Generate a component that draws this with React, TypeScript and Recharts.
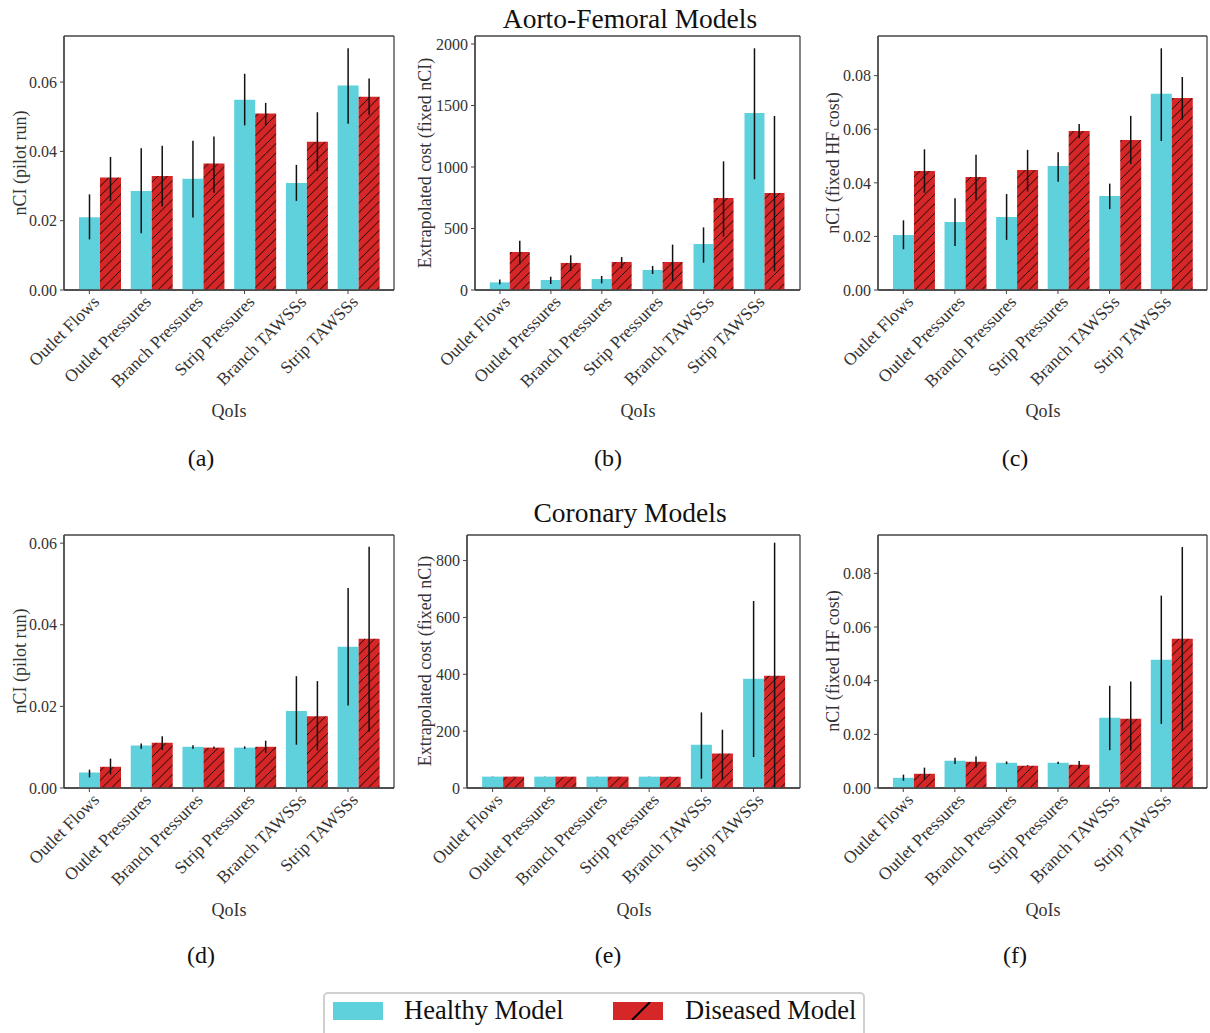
import React from 'react';
import { BarChart, Bar, XAxis, YAxis, ErrorBar, CartesianGrid } from 'recharts';

const categories = ['Outlet Flows', 'Outlet Pressures', 'Branch Pressures', 'Strip Pressures', 'Branch TAWSSs', 'Strip TAWSSs'];

// (a) Aorto-femoral, nCI (pilot run)
const aH = [0.0210, 0.0286, 0.0321, 0.0549, 0.0309, 0.0590];
const aHLo = [0.0146, 0.0164, 0.0209, 0.0475, 0.0257, 0.0480];
const aHHi = [0.0276, 0.0409, 0.0431, 0.0624, 0.0361, 0.0698];
const aD = [0.0325, 0.0329, 0.0365, 0.0509, 0.0428, 0.0558];
const aDLo = [0.0257, 0.0241, 0.0281, 0.0475, 0.0343, 0.0506];
const aDHi = [0.0384, 0.0416, 0.0443, 0.0540, 0.0513, 0.0610];
const aTicks = [0, 0.02, 0.04, 0.06];

// (b) Aorto-femoral, extrapolated cost
const bH = [62, 81, 89, 163, 374, 1439];
const bHLo = [46, 49, 54, 130, 222, 900];
const bHHi = [85, 108, 114, 195, 509, 1965];
const bD = [309, 220, 228, 228, 748, 789];
const bDLo = [209, 154, 176, 73, 434, 152];
const bDHi = [401, 282, 268, 369, 1046, 1415];
const bTicks = [0, 500, 1000, 1500, 2000];

// (c) Aorto-femoral, nCI (fixed HF cost)
const cH = [0.0205, 0.0254, 0.0272, 0.0463, 0.0351, 0.0732];
const cHLo = [0.0152, 0.0164, 0.0187, 0.0404, 0.0302, 0.0556];
const cHHi = [0.0260, 0.0342, 0.0358, 0.0514, 0.0397, 0.0902];
const cD = [0.0444, 0.0422, 0.0448, 0.0593, 0.0560, 0.0717];
const cDLo = [0.0363, 0.0337, 0.0368, 0.0566, 0.0470, 0.0636];
const cDHi = [0.0525, 0.0505, 0.0523, 0.0620, 0.0650, 0.0795];
const cTicks = [0, 0.02, 0.04, 0.06, 0.08];

// (d) Coronary, nCI (pilot run)
const dH = [0.0038, 0.0104, 0.0101, 0.0099, 0.0189, 0.0346];
const dHLo = [0.0026, 0.0096, 0.0096, 0.0096, 0.0106, 0.0202];
const dHHi = [0.0045, 0.0109, 0.0105, 0.0102, 0.0274, 0.0490];
const dD = [0.0052, 0.0111, 0.0099, 0.0101, 0.0176, 0.0366];
const dDLo = [0.0033, 0.0093, 0.0096, 0.0086, 0.0092, 0.0138];
const dDHi = [0.0072, 0.0127, 0.0102, 0.0116, 0.0262, 0.0591];
const dTicks = [0, 0.02, 0.04, 0.06];

// (e) Coronary, extrapolated cost
const eH = [40, 40, 40, 40, 152, 384];
const eHLo = [39.5, 39.5, 39.5, 39.5, 33, 109];
const eHHi = [40.5, 40.5, 40.5, 40.5, 266, 658];
const eD = [40, 40, 40, 40, 121, 395];
const eDLo = [39.5, 39.5, 39.5, 39.5, 29, 0];
const eDHi = [40.5, 40.5, 40.5, 40.5, 205, 863];
const eTicks = [0, 200, 400, 600, 800];

// (f) Coronary, nCI (fixed HF cost)
const fH = [0.0038, 0.0102, 0.0094, 0.0094, 0.0262, 0.0478];
const fHLo = [0.0027, 0.0089, 0.0089, 0.0089, 0.0141, 0.0239];
const fHHi = [0.0050, 0.0113, 0.0099, 0.0098, 0.0381, 0.0717];
const fD = [0.0053, 0.0098, 0.0083, 0.0087, 0.0258, 0.0556];
const fDLo = [0.0031, 0.0076, 0.0081, 0.0073, 0.0139, 0.0213];
const fDHi = [0.0076, 0.0117, 0.0085, 0.0101, 0.0397, 0.0898];
const fTicks = [0, 0.02, 0.04, 0.06, 0.08];

const FONT = "'Liberation Serif', 'DejaVu Serif', serif";
const CYAN = '#5fd1dd';
const RED = '#d62728';
const SPINE = '#444';
const TXT = '#333';

const fmt2 = (v: number) => v.toFixed(2);
const fmt0 = (v: number) => String(Math.round(v));

type PanelCfg = {
  key: string;
  h: number[]; hLo: number[]; hHi: number[];
  d: number[]; dLo: number[]; dHi: number[];
  ticks: number[]; max: number; fmt: (v: number) => string;
  left: number; right: number; top: number; bottom: number;
};

const panels: PanelCfg[] = [
  { key: 'a', h: aH, hLo: aHLo, hHi: aHHi, d: aD, dLo: aDLo, dHi: aDHi, ticks: aTicks, max: 0.0733, fmt: fmt2, left: 64, right: 394, top: 36, bottom: 290 },
  { key: 'b', h: bH, hLo: bHLo, hHi: bHHi, d: bD, dLo: bDLo, dHi: bDHi, ticks: bTicks, max: 2065, fmt: fmt0, left: 475, right: 800, top: 36, bottom: 290 },
  { key: 'c', h: cH, hLo: cHLo, hHi: cHHi, d: cD, dLo: cDLo, dHi: cDHi, ticks: cTicks, max: 0.0948, fmt: fmt2, left: 878, right: 1207, top: 36, bottom: 290 },
  { key: 'd', h: dH, hLo: dHLo, hHi: dHHi, d: dD, dLo: dDLo, dHi: dDHi, ticks: dTicks, max: 0.0620, fmt: fmt2, left: 64, right: 394, top: 535, bottom: 788 },
  { key: 'e', h: eH, hLo: eHLo, hHi: eHHi, d: eD, dLo: eDLo, dHi: eDHi, ticks: eTicks, max: 890, fmt: fmt0, left: 467, right: 800, top: 535, bottom: 788 },
  { key: 'f', h: fH, hLo: fHLo, hHi: fHHi, d: fD, dLo: fDLo, dHi: fDHi, ticks: fTicks, max: 0.0943, fmt: fmt2, left: 878, right: 1207, top: 535, bottom: 788 },
];

const XTick = (props: any) => {
  const { x, y, payload, off } = props;
  const cx = x - off;
  const tx = cx + 11;
  const ty = y + 13;
  return (
    <g>
      <line x1={cx} y1={y} x2={cx} y2={y + 4} stroke={SPINE} strokeWidth={1} />
      <text x={tx} y={ty} transform={`rotate(-45 ${tx} ${ty})`} textAnchor="end" fontSize={17.5} fontFamily={FONT} fill={TXT}>
        {payload.value}
      </text>
    </g>
  );
};

const frameV = ({ offset }: any) => [offset.left, offset.left + offset.width];
const frameH = ({ offset }: any) => [offset.top, offset.top + offset.height];

function Panel({ p }: { p: PanelCfg }) {
  const plotW = p.right - p.left;
  const plotH = p.bottom - p.top;
  const YW = 60, MT = 10, MR = 6, XH = 130;
  const W = plotW + YW + MR;
  const H = plotH + MT + XH;
  const unit = plotW / 6.38;
  const pad = 0.19 * unit;
  const off = 0.2 * unit;
  const data = categories.map((c, i) => ({
    name: c,
    h: p.h[i],
    d: p.d[i],
    hErr: [p.h[i] - p.hLo[i], p.hHi[i] - p.h[i]],
    dErr: [p.d[i] - p.dLo[i], p.dHi[i] - p.d[i]],
  }));
  const pid = `hatch-${p.key}`;
  return (
    <div style={{ position: 'absolute', left: p.left - YW, top: p.top - MT }}>
      <BarChart width={W} height={H} data={data} margin={{ top: MT, right: MR, left: 0, bottom: 0 }} barCategoryGap="10%" barGap={0}>
        <defs>
          <pattern id={pid} patternUnits="userSpaceOnUse" width={9.5} height={9.5}>
            <rect x={0} y={0} width={9.5} height={9.5} fill={RED} />
            <path d="M0,9.5 L9.5,0 M-2,2 L2,-2 M7.5,11.5 L11.5,7.5" stroke="#000" strokeWidth={0.9} />
          </pattern>
        </defs>
        <CartesianGrid
          stroke={SPINE}
          strokeWidth={1.3}
          fill="none"
          verticalCoordinatesGenerator={frameV}
          horizontalCoordinatesGenerator={frameH}
        />
        <XAxis
          dataKey="name"
          height={XH}
          interval={0}
          tickLine={false}
          tickSize={0}
          tickMargin={0}
          padding={{ left: pad, right: pad }}
          axisLine={{ stroke: SPINE, strokeWidth: 1.3 }}
          tick={(tp: any) => <XTick {...tp} off={off} />}
        />
        <YAxis
          type="number"
          width={YW}
          domain={[0, p.max]}
          allowDataOverflow
          ticks={p.ticks}
          interval={0}
          tickFormatter={p.fmt}
          tickSize={4}
          tickMargin={3}
          tick={{ fill: TXT, fontSize: 16, fontFamily: FONT }}
          tickLine={{ stroke: SPINE }}
          axisLine={{ stroke: SPINE, strokeWidth: 1.3 }}
        />
        <Bar dataKey="h" fill={CYAN} isAnimationActive={false}>
          <ErrorBar dataKey="hErr" width={0} stroke="#111" strokeWidth={1.5} />
        </Bar>
        <Bar dataKey="d" fill={`url(#${pid})`} isAnimationActive={false}>
          <ErrorBar dataKey="dErr" width={0} stroke="#111" strokeWidth={1.5} />
        </Bar>
      </BarChart>
    </div>
  );
}

const yLabels = [
  { t: 'nCI (pilot run)', x: 20, y: 163 },
  { t: 'Extrapolated cost (fixed nCI)', x: 425, y: 163 },
  { t: 'nCI (fixed HF cost)', x: 833, y: 163 },
  { t: 'nCI (pilot run)', x: 20, y: 661 },
  { t: 'Extrapolated cost (fixed nCI)', x: 425, y: 661 },
  { t: 'nCI (fixed HF cost)', x: 833, y: 661 },
];
const xLabels = [
  { x: 229, y: 411 }, { x: 638, y: 411 }, { x: 1043, y: 411 },
  { x: 229, y: 910 }, { x: 634, y: 910 }, { x: 1043, y: 910 },
];
const captions = [
  { t: '(a)', x: 201, y: 458 }, { t: '(b)', x: 608, y: 458 }, { t: '(c)', x: 1015, y: 458 },
  { t: '(d)', x: 201, y: 955 }, { t: '(e)', x: 608, y: 955 }, { t: '(f)', x: 1015, y: 955 },
];

export default function App() {
  return (
    <div style={{ position: 'absolute', left: 0, top: 0, width: 1210, height: 1033, background: '#fff', overflow: 'hidden', fontFamily: FONT }}>
      {panels.map((p) => (
        <Panel key={p.key} p={p} />
      ))}
      <svg width={1210} height={1033} style={{ position: 'absolute', left: 0, top: 0, pointerEvents: 'none' }}>
        <text x={630} y={18} textAnchor="middle" dominantBaseline="central" fontSize={27.5} fontFamily={FONT} fill="#111">Aorto-Femoral Models</text>
        <text x={630} y={512} textAnchor="middle" dominantBaseline="central" fontSize={27.5} fontFamily={FONT} fill="#111">Coronary Models</text>
        {yLabels.map((l, i) => (
          <text key={'y' + i} x={l.x} y={l.y} transform={`rotate(-90 ${l.x} ${l.y})`} textAnchor="middle" dominantBaseline="central" fontSize={18} fontFamily={FONT} fill={TXT}>{l.t}</text>
        ))}
        {xLabels.map((l, i) => (
          <text key={'x' + i} x={l.x} y={l.y} textAnchor="middle" dominantBaseline="central" fontSize={18} fontFamily={FONT} fill={TXT}>QoIs</text>
        ))}
        {captions.map((l, i) => (
          <text key={'c' + i} x={l.x} y={l.y} textAnchor="middle" dominantBaseline="central" fontSize={24} fontFamily={FONT} fill="#111">{l.t}</text>
        ))}
      </svg>
      <div style={{ position: 'absolute', left: 323, top: 992, width: 538, height: 48, border: '2px solid #d0d0d0', borderRadius: 5, background: '#fff' }}>
        <div style={{ position: 'absolute', left: 8, top: 8, width: 50, height: 18, background: CYAN }} />
        <div style={{ position: 'absolute', left: 79, top: 1, fontSize: 26.5, fontFamily: FONT, color: '#111', lineHeight: '30px' }}>Healthy Model</div>
        <svg style={{ position: 'absolute', left: 288, top: 8 }} width={50} height={18}>
          <rect x={0} y={0} width={50} height={18} fill={RED} />
          <line x1={19} y1={18} x2={37} y2={0} stroke="#000" strokeWidth={2} />
        </svg>
        <div style={{ position: 'absolute', left: 360, top: 1, fontSize: 26.5, fontFamily: FONT, color: '#111', lineHeight: '30px' }}>Diseased Model</div>
      </div>
    </div>
  );
}
